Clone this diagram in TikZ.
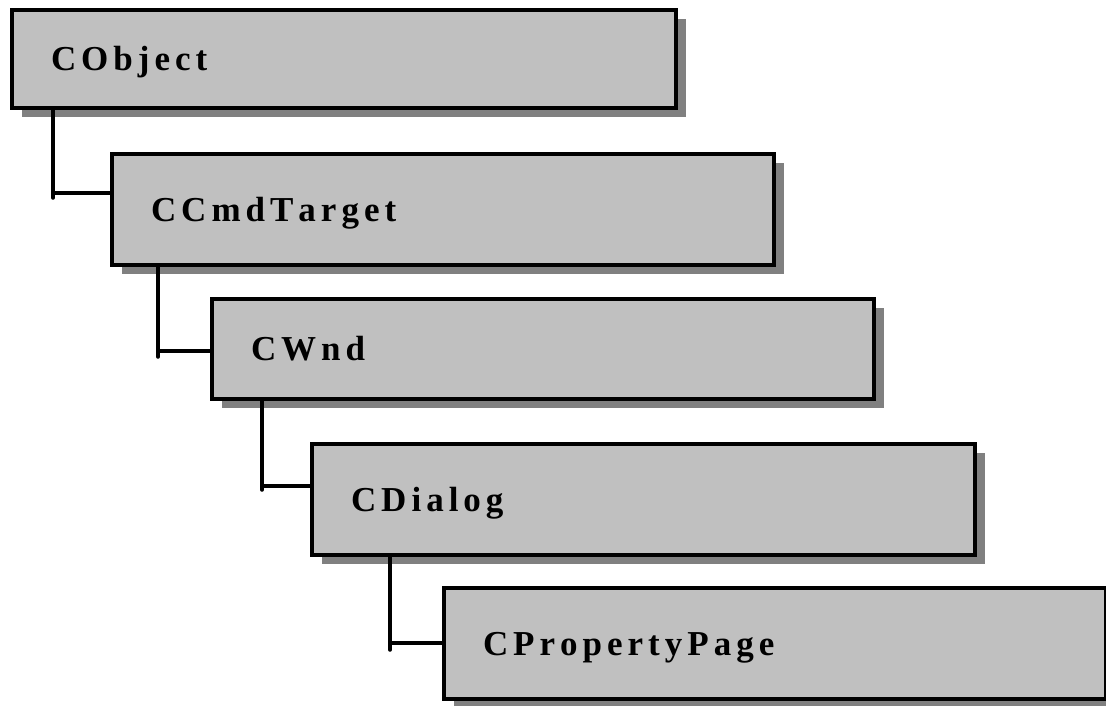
\documentclass[tikz,border=0pt]{standalone}
\usepackage{fontspec}
\setmainfont{Liberation Serif}
\usetikzlibrary{shadows}
\definecolor{boxfill}{HTML}{C0C0C0}
\definecolor{shadowgray}{HTML}{808080}
\makeatletter
\newcommand\trk[1]{\@tfor\tk@c:=#1\do{\tk@c\kern5pt}}
\makeatother
\tikzset{
  classbox/.style={draw=black, line width=4pt, fill=boxfill,
    rectangle, anchor=north west, inner xsep=39pt, inner ysep=0pt,
    text width=#1, align=left,
    text height=23pt, text depth=0pt,
    font=\bfseries\fontsize{35}{42}\selectfont,
    general shadow={fill=shadowgray, shadow xshift=10pt, shadow yshift=-9pt}},
  conn/.style={draw=black, line width=3.5pt, line cap=round}
}
\begin{document}
\begin{tikzpicture}[x=1pt,y=-1pt]
\clip (0,0) rectangle (1106,705);
\fill[white] (0,0) rectangle (1106,705);
\node[classbox=586pt, minimum height=98pt] (obj) at (10,8) {\trk{CObject}};
\node[classbox=584pt, minimum height=111pt] (cmd) at (110,152) {\trk{CCmdTarget}};
\node[classbox=584pt, minimum height=100pt] (wnd) at (210,297) {\trk{CWnd}};
\node[classbox=585pt, minimum height=111pt] (dlg) at (310,442) {\trk{CDialog}};
\node[classbox=584pt, minimum height=111pt] (ppg) at (442,586) {\trk{CPropertyPage}};
% junctions
\coordinate (j1) at (53,193);  \coordinate (e1) at (53,198);
\coordinate (j2) at (158,351); \coordinate (e2) at (158,357);
\coordinate (j3) at (262,486); \coordinate (e3) at (262,490);
\coordinate (j4) at (390,643); \coordinate (e4) at (390,650);
\draw[conn] (j1 |- obj.south) -- (e1);
\draw[conn] (j1) -- (j1 -| cmd.west);
\draw[conn] (j2 |- cmd.south) -- (e2);
\draw[conn] (j2) -- (j2 -| wnd.west);
\draw[conn] (j3 |- wnd.south) -- (e3);
\draw[conn] (j3) -- (j3 -| dlg.west);
\draw[conn] (j4 |- dlg.south) -- (e4);
\draw[conn] (j4) -- (j4 -| ppg.west);
\end{tikzpicture}
\end{document}
